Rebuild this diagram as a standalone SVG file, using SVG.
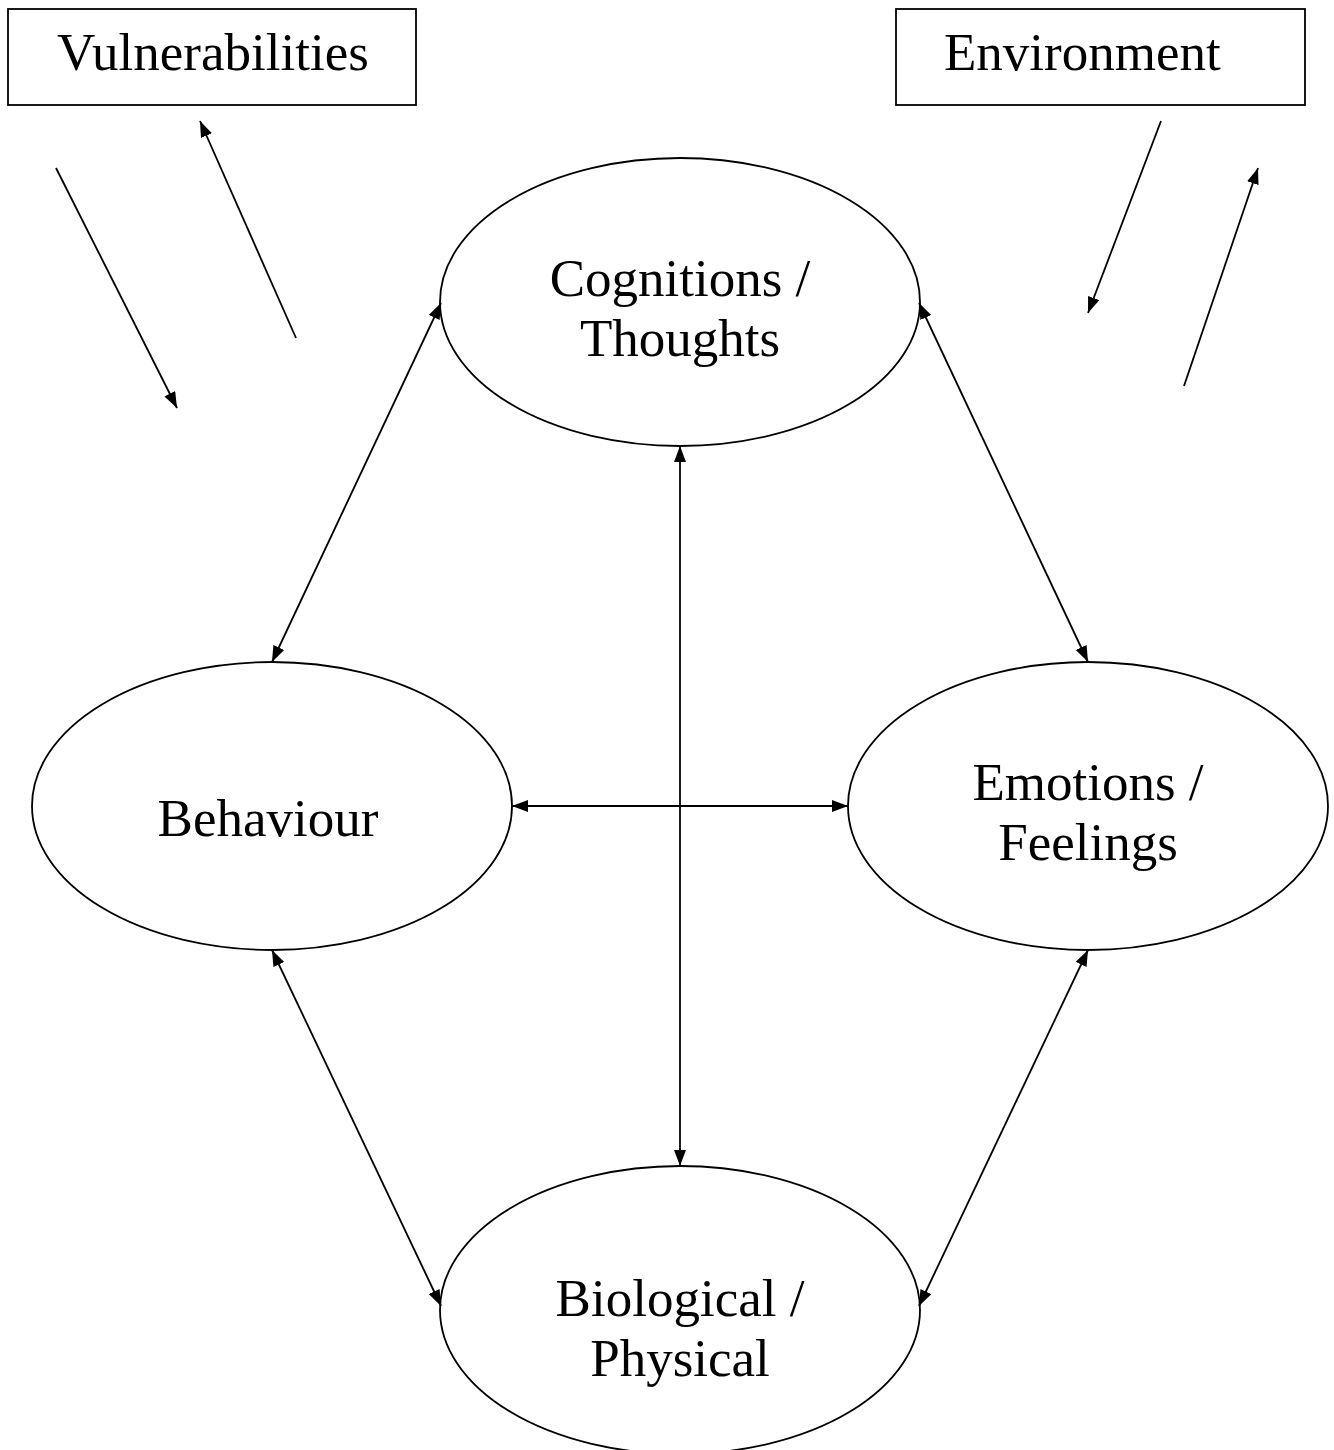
<svg xmlns="http://www.w3.org/2000/svg" width="1334" height="1450" viewBox="0 0 1334 1450">
<defs>
<marker id="ah" markerUnits="userSpaceOnUse" markerWidth="18" markerHeight="14" refX="16" refY="6" orient="auto-start-reverse">
<path d="M0,0 L16,6 L0,12 z" fill="#000"/>
</marker>
<style>
.box{fill:#fff;stroke:#000;stroke-width:1.8}
.ell{fill:#fff;stroke:#000;stroke-width:1.8}
.t{font-family:"Liberation Serif","Times New Roman",serif;font-size:53px;fill:#000;text-anchor:middle}
.tl{font-family:"Liberation Serif","Times New Roman",serif;font-size:53px;fill:#000}
.c{stroke:#000;stroke-width:1.8;fill:none}
.one{marker-end:url(#ah)}
.two{marker-start:url(#ah);marker-end:url(#ah)}
</style>
</defs>
<rect width="1334" height="1450" fill="#fff"/>
<g id="vulnerabilities">
<rect class="box" x="8" y="9" width="408" height="96"/>
<text class="tl" x="57" y="70">Vulnerabilities</text>
</g>
<g id="environment">
<rect class="box" x="896" y="9" width="409" height="96"/>
<text class="tl" x="944" y="70">Environment</text>
</g>
<g id="cognitions">
<ellipse class="ell" cx="680" cy="302" rx="240" ry="144"/>
<text class="t" x="680" y="296">Cognitions /</text>
<text class="t" x="680" y="356">Thoughts</text>
</g>
<g id="behaviour">
<ellipse class="ell" cx="272" cy="806" rx="240" ry="144"/>
<text class="t" x="268" y="836">Behaviour</text>
</g>
<g id="emotions">
<ellipse class="ell" cx="1088" cy="806" rx="240" ry="144"/>
<text class="t" x="1088" y="800">Emotions /</text>
<text class="t" x="1088" y="860">Feelings</text>
</g>
<g id="biological">
<ellipse class="ell" cx="680" cy="1310" rx="240" ry="144"/>
<text class="t" x="680" y="1316">Biological /</text>
<text class="t" x="680" y="1376">Physical</text>
</g>
<g id="connectors">
<line class="c one" x1="56" y1="168" x2="177" y2="408"/>
<line class="c one" x1="296" y1="338" x2="200" y2="121"/>
<line class="c one" x1="1161" y1="121" x2="1088" y2="313"/>
<line class="c one" x1="1184" y1="386" x2="1258" y2="168"/>
<line class="c two" x1="441" y1="303" x2="272" y2="662"/>
<line class="c two" x1="919" y1="303" x2="1088" y2="662"/>
<line class="c two" x1="680" y1="446" x2="680" y2="1166"/>
<line class="c two" x1="512" y1="806" x2="848" y2="806"/>
<line class="c two" x1="272" y1="950" x2="441" y2="1306"/>
<line class="c two" x1="1088" y1="950" x2="919" y2="1306"/>
</g>
</svg>
